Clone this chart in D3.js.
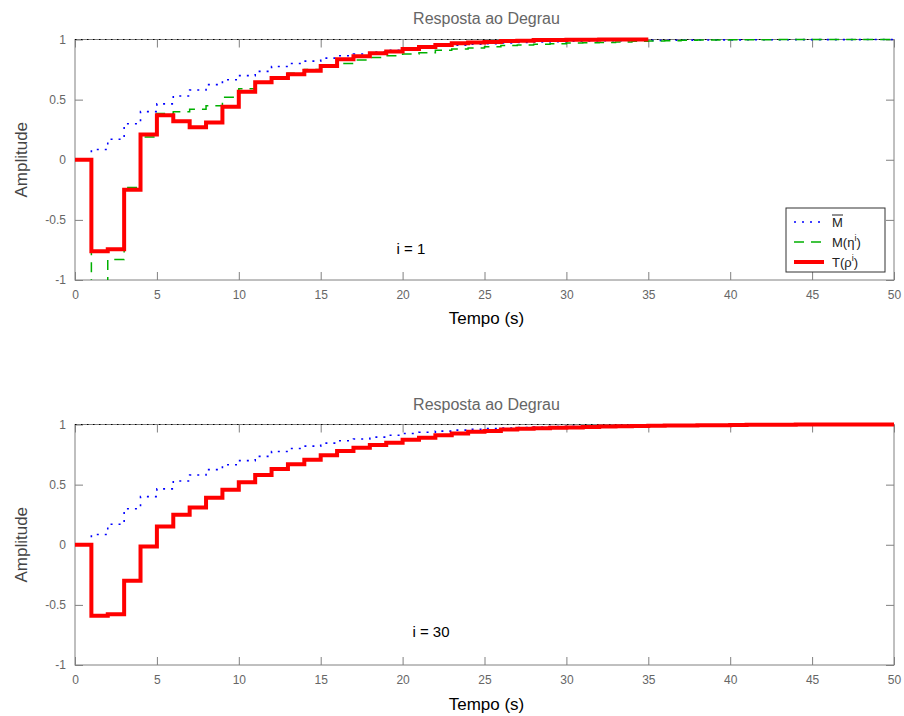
<!DOCTYPE html>
<html>
<head>
<meta charset="utf-8">
<script src="https://cdn.jsdelivr.net/npm/d3@7"></script>
<style>
  html, body { margin: 0; padding: 0; background: #fff; }
  svg { display: block; font-family: "Liberation Sans", Arial, Helvetica, sans-serif; }
</style>
</head>
<body>
<svg id="chart" width="904" height="716"></svg>
<script>
// ---------------- data ----------------
const xTicks = [0, 5, 10, 15, 20, 25, 30, 35, 40, 45, 50];
const yTicks = [-1, -0.5, 0, 0.5, 1];
const yTickLabels = ["-1", "-0.5", "0", "0.5", "1"];
const titleText = "Resposta ao Degrau";
const xLabelText = "Tempo (s)";
const yLabelText = "Amplitude";
const panelLabels = ["i = 1", "i = 30"];

// nominal model M-bar (t = 0..50, sample time 1 s)
const mBar = [0, 0.085, 0.17, 0.30, 0.40, 0.465, 0.53, 0.58, 0.625, 0.665,
  0.70, 0.735, 0.775, 0.80, 0.82, 0.845, 0.865, 0.88, 0.895, 0.91,
  0.925, 0.935, 0.945, 0.953, 0.96, 0.966, 0.971, 0.975, 0.979, 0.982,
  0.985, 0.987, 0.989, 0.991, 0.992, 0.993, 0.994, 0.995, 0.996, 0.997,
  0.997, 0.998, 0.998, 0.998, 0.999, 0.999, 0.999, 0.999, 1, 1, 1];

// M(eta^i), i = 1 (t = 0..50)
const mEta1 = [0, -1.1, -0.83, -0.23, 0.19, 0.385, 0.40, 0.42, 0.45, 0.52,
  0.59, 0.64, 0.68, 0.72, 0.75, 0.77, 0.80, 0.83, 0.85, 0.865,
  0.88, 0.89, 0.91, 0.92, 0.93, 0.94, 0.95, 0.955, 0.96, 0.965,
  0.97, 0.973, 0.976, 0.98, 0.985, 0.988, 0.99, 0.993, 0.995, 0.996,
  0.997, 0.998, 0.998, 0.999, 0.999, 1, 1, 1, 1, 1, 1];

// T(rho^i), i = 1 (t = 0..35)
const tRho1 = [0, -0.76, -0.745, -0.25, 0.21, 0.37, 0.32, 0.27, 0.31, 0.44,
  0.565, 0.645, 0.68, 0.71, 0.74, 0.78, 0.835, 0.86, 0.885, 0.90,
  0.92, 0.937, 0.955, 0.968, 0.975, 0.98, 0.988, 0.99, 0.995, 0.996,
  0.997, 0.998, 0.999, 1, 1, 1];

// T(rho^i), i = 30 (t = 0..50)
const tRho30 = [0, -0.59, -0.578, -0.30, -0.015, 0.152, 0.25, 0.31, 0.39, 0.457,
  0.52, 0.58, 0.63, 0.67, 0.707, 0.745, 0.78, 0.807, 0.83, 0.848,
  0.873, 0.89, 0.91, 0.925, 0.94, 0.945, 0.958, 0.965, 0.968, 0.972,
  0.976, 0.979, 0.983, 0.985, 0.987, 0.99, 0.991, 0.992, 0.993, 0.994,
  0.995, 0.998, 0.998, 0.998, 0.999, 0.999, 0.999, 0.999, 1, 1, 1];

const steadyState = 1;
const legendLabels = [
  {base: "M", sup: null, bar: true},
  {base: "M(η", sup: "i", close: ")"},
  {base: "T(ρ", sup: "i", close: ")"}
];

// ---------------- styles ----------------
const colBlue = "#0000ff", colGreen = "#00b000", colRed = "#ff0000";
const axisCol = "#808080", labelCol = "#666666";

const panels = [
  {top: 39.5, bottom: 280, titleY: 24, xlabY: 324, label: panelLabels[0], labX: 411, labY: 254,
   series: [
     {data: mBar, color: colBlue, width: 1.6, dash: "2,6"},
     {data: mEta1, color: colGreen, width: 1.5, dash: "10,7"},
     {data: tRho1, color: colRed, width: 4, dash: null}
   ], legend: true},
  {top: 424.5, bottom: 665, titleY: 410, xlabY: 710, label: panelLabels[1], labX: 431, labY: 637,
   series: [
     {data: mBar.slice(0, 36), color: colBlue, width: 1.6, dash: "2,6"},
     {data: tRho30, color: colRed, width: 4, dash: null}
   ], legend: false}
];

const left = 75, right = 894;
const svg = d3.select("#chart");
svg.append("rect").attr("width", 904).attr("height", 716).attr("fill", "#fff");

const x = d3.scaleLinear().domain([0, 50]).range([left, right]);

panels.forEach((p, pi) => {
  const y = d3.scaleLinear().domain([-1, 1]).range([p.bottom, p.top]);
  const g = svg.append("g");

  const clipId = "clip" + pi;
  svg.append("defs").append("clipPath").attr("id", clipId)
    .append("rect").attr("x", left).attr("y", p.top - 3)
    .attr("width", right - left).attr("height", p.bottom - p.top + 3);

  // axes box
  g.append("rect").attr("x", left).attr("y", p.top)
    .attr("width", right - left).attr("height", p.bottom - p.top)
    .attr("fill", "none").attr("stroke", axisCol).attr("stroke-width", 1);

  const styleAxis = sel => {
    sel.select(".domain").remove();
    sel.selectAll(".tick line").attr("stroke", axisCol);
    sel.selectAll(".tick text").attr("fill", labelCol).attr("font-size", 12);
  };

  g.append("g").attr("transform", `translate(0,${p.bottom})`)
    .call(d3.axisBottom(x).tickValues(xTicks).tickSize(-8).tickPadding(10).tickFormat(d3.format("d")))
    .call(styleAxis);
  g.append("g").attr("transform", `translate(0,${p.top})`)
    .call(d3.axisTop(x).tickValues(xTicks).tickSize(-8).tickFormat(""))
    .call(styleAxis);
  g.append("g").attr("transform", `translate(${left},0)`)
    .call(d3.axisLeft(y).tickValues(yTicks).tickSize(-8).tickPadding(9)
      .tickFormat((d, i) => yTickLabels[i]))
    .call(styleAxis);
  g.append("g").attr("transform", `translate(${right},0)`)
    .call(d3.axisRight(y).tickValues(yTicks).tickSize(-8).tickFormat(""))
    .call(styleAxis);

  // steady-state dotted line
  g.append("line").attr("x1", x(0)).attr("x2", x(50))
    .attr("y1", y(steadyState)).attr("y2", y(steadyState))
    .attr("stroke", "#000").attr("stroke-width", 1).attr("stroke-dasharray", "1.5,4.5");

  // series
  const line = d3.line().x((d, i) => x(i)).y(d => y(d)).curve(d3.curveStepAfter);
  const sg = g.append("g").attr("clip-path", `url(#${clipId})`);
  p.series.forEach(s => {
    sg.append("path").attr("d", line(s.data))
      .attr("fill", "none").attr("stroke", s.color)
      .attr("stroke-width", s.width)
      .attr("stroke-dasharray", s.dash)
      .attr("stroke-linejoin", "miter").attr("stroke-linecap", "butt");
  });

  // title, labels
  svg.append("text").attr("x", (left + right) / 2 + 2).attr("y", p.titleY)
    .attr("text-anchor", "middle").attr("font-size", 16).attr("fill", labelCol)
    .text(titleText);
  svg.append("text").attr("x", (left + right) / 2 + 2).attr("y", p.xlabY)
    .attr("text-anchor", "middle").attr("font-size", 17).attr("fill", "#000")
    .text(xLabelText);
  svg.append("text")
    .attr("transform", `translate(27,${(p.top + p.bottom) / 2}) rotate(-90)`)
    .attr("text-anchor", "middle").attr("font-size", 17).attr("fill", "#444")
    .text(yLabelText);
  svg.append("text").attr("x", p.labX).attr("y", p.labY)
    .attr("text-anchor", "middle").attr("font-size", 15).attr("fill", "#000")
    .text(p.label);

  if (p.legend) {
    const lx = 786, ly = 208, lw = 99, lh = 64;
    const lg = svg.append("g");
    lg.append("rect").attr("x", lx).attr("y", ly).attr("width", lw).attr("height", lh)
      .attr("fill", "#fff").attr("stroke", "#333").attr("stroke-width", 1);
    p.series.forEach((s, i) => {
      const yy = ly + 14 + i * 20;
      lg.append("line").attr("x1", lx + 8).attr("x2", lx + 38)
        .attr("y1", yy).attr("y2", yy)
        .attr("stroke", s.color).attr("stroke-width", s.width)
        .attr("stroke-dasharray", s.dash);
      const L = legendLabels[i];
      const t = lg.append("text").attr("x", lx + 46).attr("y", yy + 5)
        .attr("font-size", 13).attr("fill", "#222");
      t.append("tspan").text(L.base);
      if (L.sup) {
        t.append("tspan").attr("dy", -6).attr("font-size", 9).text(L.sup);
        t.append("tspan").attr("dy", 6).text(L.close);
      }
      if (L.bar) {
        lg.append("line").attr("x1", lx + 46).attr("x2", lx + 57)
          .attr("y1", yy - 7).attr("y2", yy - 7)
          .attr("stroke", "#222").attr("stroke-width", 1);
      }
    });
  }
});
</script>
</body>
</html>
